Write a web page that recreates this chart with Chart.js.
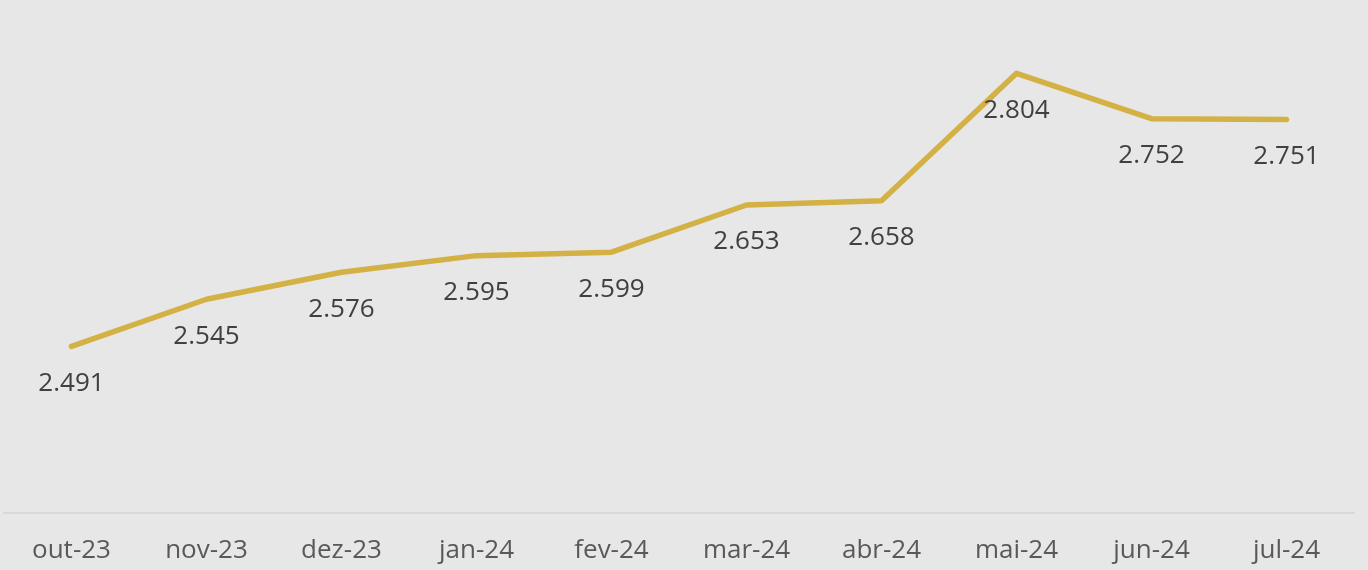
<!DOCTYPE html>
<html>
<head>
<meta charset="utf-8">
<script src="https://cdn.jsdelivr.net/npm/chart.js@4"></script>
<style>
  html, body { margin: 0; padding: 0; background: #e7e7e7; }
  #wrap { width: 1368px; height: 570px; }
</style>
</head>
<body>
<div id="wrap"><canvas id="chart"></canvas></div>
<script>
const labels = ["out-23", "nov-23", "dez-23", "jan-24", "fev-24", "mar-24", "abr-24", "mai-24", "jun-24", "jul-24"];
const values = [2.491, 2.545, 2.576, 2.595, 2.599, 2.653, 2.658, 2.804, 2.752, 2.751];

const fmt = v => v.toFixed(3);

// draws the value under each point
const pointLabels = {
  id: "pointLabels",
  afterDatasetsDraw(chart) {
    const ctx = chart.ctx;
    const meta = chart.getDatasetMeta(0);
    ctx.save();
    ctx.font = "26px 'Open Sans'";
    ctx.fillStyle = "#404040";
    ctx.textAlign = "center";
    ctx.textBaseline = "middle";
    meta.data.forEach((pt, i) => {
      ctx.fillText(fmt(values[i]), pt.x, pt.y + 37);
    });
    ctx.restore();
  }
};

new Chart(document.getElementById("chart"), {
  type: "line",
  data: {
    labels,
    datasets: [{
      data: values,
      borderColor: "#d4b145",
      borderWidth: 5.5,
      borderCapStyle: "round",
      borderJoinStyle: "round",
      pointRadius: 0,
      tension: 0
    }]
  },
  options: {
    responsive: true,
    maintainAspectRatio: false,
    animation: false,
    layout: { padding: { left: 4, right: 14, top: 0, bottom: 0 } },
    plugins: { legend: { display: false }, tooltip: { enabled: false } },
    scales: {
      x: {
        offset: true,
        grid: { display: false, drawTicks: false },
        border: { color: "#d9d9d9", width: 2 },
        ticks: { color: "#595959", font: { family: "'Open Sans'", size: 26 }, padding: 22, maxRotation: 0 },
        afterFit(scale) { scale.height = 57; }
      },
      y: {
        display: false,
        min: 2.3,
        max: 2.888
      }
    }
  },
  plugins: [pointLabels]
});
</script>
</body>
</html>
